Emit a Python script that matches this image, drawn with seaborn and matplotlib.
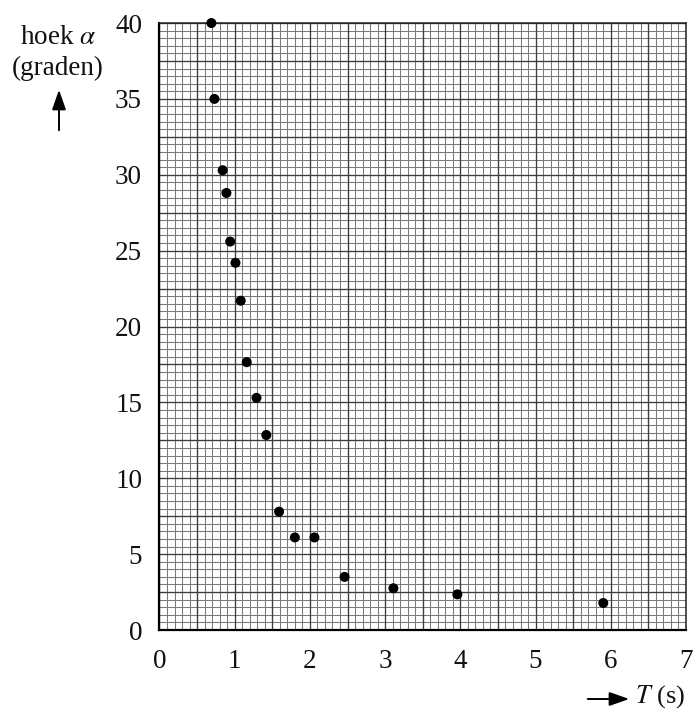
import numpy as np
import pandas as pd
import matplotlib
matplotlib.use("Agg")
import matplotlib.pyplot as plt
from matplotlib.ticker import MultipleLocator
import seaborn as sns

# Measured swing period T (s) versus amplitude angle alpha (degrees)
period_s = [0.69, 0.73, 0.84, 0.89, 0.94, 1.01, 1.08, 1.16, 1.29, 1.42,
            1.59, 1.80, 2.06, 2.46, 3.11, 3.96, 5.90]
angle_deg = [40.0, 35.0, 30.3, 28.8, 25.6, 24.2, 21.7, 17.65, 15.3, 12.85,
             7.8, 6.1, 6.1, 3.5, 2.75, 2.35, 1.78]

x_ticks = [0, 1, 2, 3, 4, 5, 6, 7]
y_ticks = [0, 5, 10, 15, 20, 25, 30, 35, 40]

df = pd.DataFrame({"T": period_s, "alpha": angle_deg})

sns.set_style("white")
plt.rcParams["font.family"] = ["Liberation Serif", "DejaVu Serif"]
plt.rcParams["mathtext.fontset"] = "stix"

fig = plt.figure(figsize=(6.94, 7.13), dpi=100)
ax = fig.add_axes([0.2298, 0.1164, 0.7587, 0.8513])

ax.set_xlim(0, 7)
ax.set_ylim(0, 40)

# millimetre-paper style grid
ax.xaxis.set_minor_locator(MultipleLocator(0.1))
ax.yaxis.set_minor_locator(MultipleLocator(0.5))
ax.grid(which="minor", color="#7a7a7a", linewidth=0.75)
ax.grid(which="major", visible=False)
for xv in np.arange(0, 7.01, 0.5):
    ax.axvline(xv, color="#3c3c3c", linewidth=0.95, zorder=1)
for yv in np.arange(0, 40.01, 2.5):
    ax.axhline(yv, color="#3c3c3c", linewidth=0.95, zorder=1)
ax.set_axisbelow(True)

sns.scatterplot(data=df, x="T", y="alpha", ax=ax, color="black", s=52,
                edgecolor="none", zorder=5, clip_on=False, legend=False)

ax.set_xticks(x_ticks)
ax.set_yticks(y_ticks)
ax.set_xticklabels([str(v) for v in x_ticks])
ax.set_yticklabels([str(v) for v in y_ticks])
ax.tick_params(axis="both", which="major", direction="out", length=8.5,
               width=1.3, labelsize=19.5, pad=4, color="black",
               labelcolor="#111111")
ax.tick_params(axis="both", which="minor", length=0)
ax.tick_params(axis="x", pad=5)

for side in ["left", "bottom"]:
    ax.spines[side].set_linewidth(1.6)
    ax.spines[side].set_color("black")
for side in ["top", "right"]:
    ax.spines[side].set_linewidth(1.1)
    ax.spines[side].set_color("#222222")

ax.set_xlabel("")
ax.set_ylabel("")

# axis titles with direction arrows
fig.text(58 / 694, 1 - 37 / 713, r"hoek $\alpha$", ha="center", va="center",
         fontsize=19.5, color="#111111")
fig.text(58 / 694, 1 - 68 / 713, "(graden)", ha="center", va="center",
         fontsize=19.5, color="#111111")
fig.add_artist(matplotlib.patches.FancyArrowPatch(
    (59 / 694, 1 - 133 / 713), (59 / 694, 1 - 87 / 713),
    transform=fig.transFigure, arrowstyle="-|>,head_length=8,head_width=2.8",
    color="black", linewidth=1.4, mutation_scale=1.5))

fig.add_artist(matplotlib.patches.FancyArrowPatch(
    (585 / 694, 1 - 699 / 713), (632 / 694, 1 - 699 / 713),
    transform=fig.transFigure, arrowstyle="-|>,head_length=8,head_width=2.8",
    color="black", linewidth=1.4, mutation_scale=1.5))
fig.text(635 / 694, 1 - 697 / 713, r"$T$ (s)", ha="left", va="center",
         fontsize=19, color="#111111")

fig.savefig("out.png", dpi=100, facecolor="white")
